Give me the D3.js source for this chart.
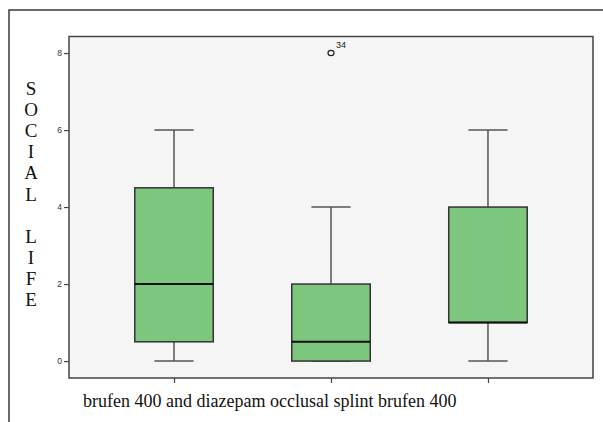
<!DOCTYPE html>
<html>
<head>
<meta charset="utf-8">
<script src="https://cdn.jsdelivr.net/npm/d3@7/dist/d3.min.js"></script>
<style>
html,body{margin:0;padding:0;background:#fff;}
svg{display:block;}
</style>
</head>
<body>
<svg id="chart" width="603" height="422"></svg>
<script>
const categories = ["brufen 400 and diazepam", "occlusal splint", "brufen 400"];
const whiskerLow = [0, 0, 0];
const q1 = [0.5, 0, 1];
const medians = [2, 0.5, 1];
const q3 = [4.5, 2, 4];
const whiskerHigh = [6, 4, 6];
const outlierCategory = ["occlusal splint"];
const outlierValue = [8];
const outlierLabel = ["34"];
const yTicks = [0, 2, 4, 6, 8];
const yTitleLetters = ["S","O","C","I","A","L","","L","I","F","E"];

const svg = d3.select("#chart");
const plot = {left: 69, top: 36.5, right: 593, bottom: 378};

const x = d3.scalePoint().domain(categories).range([plot.left, plot.right]).padding(0.669);
const y = d3.scaleLinear().domain([-0.44, 8.43]).range([plot.bottom, plot.top]);
const step = x.step();
const boxW = step * 0.5;
const capW = step * 0.25;

// outer frame (top and left visible)
svg.append("path").attr("d", "M9,422 V10 H603").attr("fill", "none")
  .attr("stroke", "#3a3a3a").attr("stroke-width", 1.5);

// plot background
svg.append("rect").attr("x", plot.left).attr("y", plot.top)
  .attr("width", plot.right - plot.left).attr("height", plot.bottom - plot.top)
  .attr("fill", "#f4f5f4").attr("stroke", "#444").attr("stroke-width", 1.5);

// y axis
const yAxis = d3.axisLeft(y).tickValues(yTicks).tickSize(5).tickPadding(2).tickFormat(d3.format("d"));
const gy = svg.append("g").attr("transform", `translate(${plot.left},0)`).call(yAxis);
gy.select(".domain").remove();
gy.selectAll("line").attr("stroke", "#444").attr("stroke-width", 1.2);
gy.selectAll("text").attr("font-family", "Liberation Sans, Arial, sans-serif").attr("font-size", 8.5).attr("fill", "#333");

// x axis
const xAxis = d3.axisBottom(x).tickSize(5).tickFormat("");
const gx = svg.append("g").attr("transform", `translate(0,${plot.bottom})`).call(xAxis);
gx.select(".domain").remove();
gx.selectAll("line").attr("stroke", "#444").attr("stroke-width", 1.2);

// boxes
const data = categories.map((c, i) => ({c, lo: whiskerLow[i], q1: q1[i], med: medians[i], q3: q3[i], hi: whiskerHigh[i]}));
const g = svg.append("g");
data.forEach(d => {
  const cx = x(d.c);
  g.append("line").attr("x1", cx).attr("x2", cx).attr("y1", y(d.hi)).attr("y2", y(d.q3))
    .attr("stroke", "#555").attr("stroke-width", 1.5);
  g.append("line").attr("x1", cx).attr("x2", cx).attr("y1", y(d.q1)).attr("y2", y(d.lo))
    .attr("stroke", "#555").attr("stroke-width", 1.5);
  g.append("line").attr("x1", cx - capW/2).attr("x2", cx + capW/2).attr("y1", y(d.hi)).attr("y2", y(d.hi))
    .attr("stroke", "#555").attr("stroke-width", 1.5);
  g.append("line").attr("x1", cx - capW/2).attr("x2", cx + capW/2).attr("y1", y(d.lo)).attr("y2", y(d.lo))
    .attr("stroke", "#555").attr("stroke-width", 1.5);
  g.append("rect").attr("x", cx - boxW/2).attr("y", y(d.q3)).attr("width", boxW).attr("height", y(d.q1) - y(d.q3))
    .attr("fill", "#7dc67e").attr("stroke", "#333").attr("stroke-width", 1.5);
  g.append("line").attr("x1", cx - boxW/2).attr("x2", cx + boxW/2).attr("y1", y(d.med)).attr("y2", y(d.med))
    .attr("stroke", "#111").attr("stroke-width", 2);
});

// outliers
outlierValue.forEach((v, i) => {
  const cx = x(outlierCategory[i]);
  g.append("ellipse").attr("cx", cx).attr("cy", y(v)).attr("rx", 3).attr("ry", 2.6)
    .attr("fill", "none").attr("stroke", "#222").attr("stroke-width", 1.2);
  g.append("text").attr("x", cx + 5).attr("y", y(v) - 5).text(outlierLabel[i])
    .attr("font-family", "Liberation Sans, Arial, sans-serif").attr("font-size", 9).attr("fill", "#222");
});

// x label
svg.append("text").attr("x", 83).attr("y", 407).text(categories.join(" "))
  .attr("font-family", "Liberation Serif, Times New Roman, serif").attr("font-size", 18).attr("fill", "#111");

// y title stacked letters
svg.append("g").selectAll("text").data(yTitleLetters).join("text")
  .attr("x", 31).attr("y", (d, i) => 95 + i * 21.1)
  .attr("text-anchor", "middle")
  .attr("font-family", "Liberation Serif, Times New Roman, serif").attr("font-size", 19).attr("fill", "#111")
  .text(d => d);
</script>
</body>
</html>
